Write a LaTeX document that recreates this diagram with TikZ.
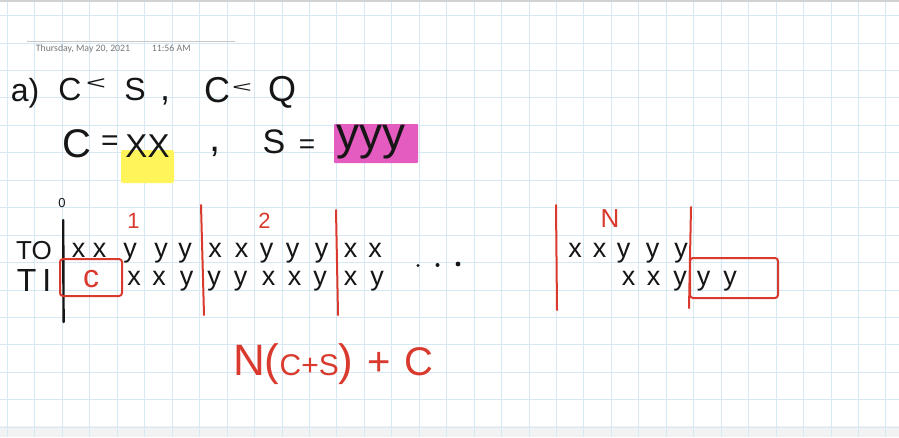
\documentclass[tikz,border=0pt]{standalone}
\usepackage{fontspec}
\setmainfont{Liberation Sans}
\newfontfamily\datefont{Carlito}
\newcommand\hfsz[1]{\fontsize{#1}{#1}\selectfont}
\definecolor{gridblue}{RGB}{212,233,244}
\definecolor{ink}{RGB}{22,22,22}
\definecolor{redink}{RGB}{218,58,46}
\definecolor{hlyellow}{RGB}{255,244,90}
\definecolor{hlpink}{RGB}{228,92,192}
\definecolor{dategray}{RGB}{120,120,120}
\tikzset{
  hand/.style={inner sep=0pt, anchor=base, text=ink},
  redhand/.style={inner sep=0pt, anchor=base, text=redink},
  redline/.style={draw=redink, line width=2pt, line cap=round},
  redbox/.style={draw=redink, line width=2pt, rounded corners=3pt},
  rowletter/.style={hand, font=\hfsz{27}},
}
\begin{document}
\begin{tikzpicture}[x=1pt,y=-1pt]
\useasboundingbox (0,0) rectangle (899,437);
\fill[white] (0,0) rectangle (899,437);
\fill[black!5] (0,426) rectangle (899,437);
% grid
\foreach \k in {0,...,32} \draw[gridblue, line width=1pt] ({7.5+27.45*\k},0) -- ({7.5+27.45*\k},437);
\foreach \k in {0,...,15} \draw[gridblue, line width=1pt] (0,{15.7+27.43*\k}) -- (899,{15.7+27.43*\k});
\fill[black!18] (0,0) rectangle (899,1.5);
% date header
\draw[black!22, line width=0.8pt] (26.7,41.7) -- (235,41.7);
\node[inner sep=0pt, anchor=base west, text=dategray, font=\datefont\hfsz{9.8}] (date) at (35.7,51.5) {Thursday, May 20, 2021};
\node[inner sep=0pt, anchor=base west, text=dategray, font=\datefont\hfsz{9.8}] (time) at (151.7,51.5) {11:56 AM};
% line 1
\node[hand, font=\hfsz{32}] (a) at (25,101) {a)};
\node[hand, font=\hfsz{32}] (c1) at (70,100) {C};
\node[hand, font=\hfsz{34}] (lt1) at (96,89) {\scalebox{1}[0.55]{<}};
\node[hand, font=\hfsz{32}] (s1) at (135,100) {S};
\node[hand, font=\hfsz{36}] (comma1) at (165,100) {,};
\node[hand, font=\hfsz{36}] (c2) at (217,102) {C};
\node[hand, font=\hfsz{34}] (lt2) at (242,92) {\scalebox{1}[0.45]{<}};
\node[hand, font=\hfsz{36}] (q) at (282,101) {Q};
% line 2
\fill[hlyellow, rounded corners=2pt] (121,150) rectangle (174,183);
\fill[hlpink, rounded corners=1pt] (334,124) rectangle (418,163);
\node[hand, font=\hfsz{40}] (c3) at (76.5,157) {C};
\node[hand, font=\hfsz{30}] (eq1) at (110,150) {=};
\node[hand, font=\hfsz{33}] (xx) at (147.5,157) {XX};
\node[hand, font=\hfsz{40}] (comma2) at (215,151) {,};
\node[hand, font=\hfsz{34}] (s2) at (274,153) {S};
\node[hand, font=\hfsz{28}] (eq2) at (307,153) {=};
\node[hand, font=\hfsz{46}] (yyy) at (371,149) {yyy};
% thread labels
\node[hand, font=\hfsz{26}] (t0) at (34,259) {TO};
\node[hand, font=\hfsz{32}] (t1) at (34,291) {T\hspace{6pt}I};
% axis
\node[hand, font=\hfsz{13}] (zero) at (62,207) {0};
\draw[ink, line width=2.4pt, line cap=round] (63.2,220) -- (63.6,322);
% red separators and labels
\draw[redline] (201,205) -- (204,315);
\draw[redline] (336,210) -- (338,315);
\draw[redline] (556,205) -- (557,310);
\draw[redline] (691,207) -- (689,308);
\node[redhand, font=\hfsz{22}] (one) at (133.5,228) {1};
\node[redhand, font=\hfsz{22}] (two) at (264.5,228) {2};
\node[redhand, font=\hfsz{26}] (nlab) at (610,227) {N};
% red boxes
\draw[redbox] (60,259) rectangle (122,296);
\node[redhand, font=\hfsz{32}] (cbox) at (91,287) {c};
\draw[redbox] (690,258) rectangle (778,298);
% T0 row
\foreach \px/\ch [count=\i] in {78.5/x,99.5/x,130/y,161/y,185/y,215/x,241.5/x,266.5/y,292.5/y,321.5/y,350.5/x,375/x}
  \node[rowletter] (r0-\i) at (\px,257) {\ch};
% T1 row
\foreach \px/\ch [count=\i] in {134/x,159/x,186.5/y,214/y,240.5/y,268.5/x,294.5/x,320/y,350.5/x,377/y}
  \node[rowletter] (r1-\i) at (\px,285) {\ch};
% last period
\foreach \px/\ch [count=\i] in {575/x,599.5/x,623.5/y,652.5/y,681/y}
  \node[rowletter] (n0-\i) at (\px,257) {\ch};
\foreach \px/\ch [count=\i] in {628.5/x,653.5/x,680/y,703.5/y,730/y}
  \node[rowletter] (n1-\i) at (\px,285) {\ch};
% ellipsis dots
\fill[ink] (418,265.5) circle (1.6pt);
\fill[ink] (437.5,265) circle (2pt);
\fill[ink] (458,264) circle (2.4pt);
% formula
\node[inner sep=0pt, anchor=base west, text=redink] (formula) at (233,375)
  {\hfsz{44}N(\hfsz{30}C+S\hfsz{44})\hspace{14pt}\hfsz{40}+\hspace{14pt}C};
\end{tikzpicture}
\end{document}
